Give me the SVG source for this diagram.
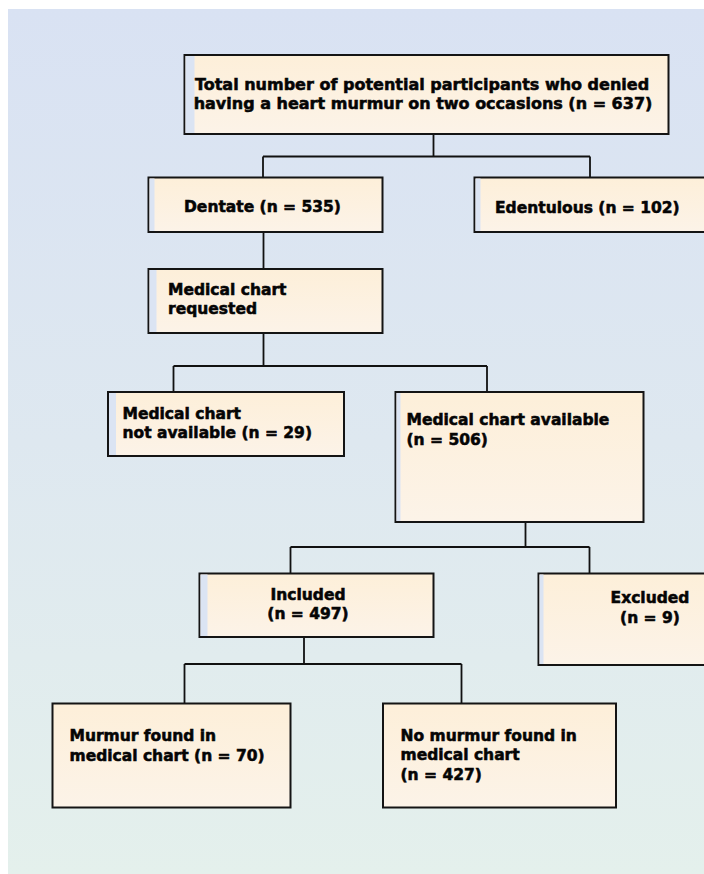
<svg xmlns="http://www.w3.org/2000/svg" width="704" height="874" viewBox="0 0 704 874">
  <defs>
    <linearGradient id="bg" x1="0" y1="0" x2="0" y2="1">
      <stop offset="0" stop-color="#d9e2f3"/>
      <stop offset="0.5" stop-color="#dee8f0"/>
      <stop offset="1" stop-color="#e4f0ec"/>
    </linearGradient>
    <linearGradient id="boxfill" x1="0" y1="0" x2="0" y2="1">
      <stop offset="0" stop-color="#fdefd9"/>
      <stop offset="1" stop-color="#fcf3e8"/>
    </linearGradient>
    <style>
      .box { fill: url(#boxfill); stroke: #141414; stroke-width: 2; }
      .strip { fill: #dbe4f3; }
      .lbl { font-family: "DejaVu Sans", "Liberation Sans", sans-serif; font-weight: bold; font-size: 15.5px; fill: #050505; stroke: #050505; stroke-width: 0.55; }
      .big { font-size: 16px; }
      .mid { text-anchor: middle; }
      .conn { fill: none; stroke: #111111; stroke-width: 1.8; }
    </style>
  </defs>

  <rect x="0" y="0" width="704" height="874" fill="#ffffff"/>
  <rect x="8" y="9" width="696" height="865" fill="url(#bg)"/>

  <g id="connectors">
    <path class="conn" d="M433.5 134 V156.5 M263 156.5 H590 M263 156.5 V177 M590 156.5 V177"/>
    <path class="conn" d="M263.5 232 V269"/>
    <path class="conn" d="M263.5 333 V366 M173.5 366 H487 M173.5 366 V392 M487 366 V392"/>
    <path class="conn" d="M525.5 522 V547 M290.5 547 H589.5 M290.5 547 V573 M589.5 547 V573"/>
    <path class="conn" d="M304 637 V664 M184.5 664 H461.5 M184.5 664 V703 M461.5 664 V703"/>
  </g>

  <g id="n-total">
    <rect class="box" x="184.5" y="55" width="484" height="79"/>
    <rect class="strip" x="185.5" y="56" width="9" height="77"/>
    <text class="lbl big mid" x="422" y="89.5">Total number of potential participants who denied</text>
    <text class="lbl big mid" x="423" y="108.5">having a heart murmur on two occasions (n = 637)</text>
  </g>

  <g id="n-dentate">
    <rect class="box" x="148.5" y="177.5" width="234" height="54.5"/>
    <rect class="strip" x="149.5" y="178.5" width="5" height="52.5"/>
    <text class="lbl" x="184" y="211.5">Dentate (n = 535)</text>
  </g>

  <g id="n-edentulous">
    <rect class="box" x="474.5" y="177.5" width="240" height="54.5"/>
    <rect class="strip" x="475.5" y="178.5" width="5" height="52.5"/>
    <text class="lbl" x="495" y="212.5">Edentulous (n = 102)</text>
  </g>

  <g id="n-requested">
    <rect class="box" x="148.5" y="269" width="234" height="64"/>
    <rect class="strip" x="149.5" y="270" width="7" height="62"/>
    <text class="lbl" x="168" y="294.5">Medical chart</text>
    <text class="lbl" x="168" y="314">requested</text>
  </g>

  <g id="n-notavailable">
    <rect class="box" x="108" y="392" width="236" height="64"/>
    <rect class="strip" x="109" y="393" width="7" height="62"/>
    <text class="lbl" x="122.5" y="418.5">Medical chart</text>
    <text class="lbl" x="122.5" y="438">not available (n = 29)</text>
  </g>

  <g id="n-available">
    <rect class="box" x="395.5" y="392" width="248" height="130"/>
    <rect class="strip" x="396.5" y="393" width="4" height="128"/>
    <text class="lbl" x="406.5" y="425">Medical chart available</text>
    <text class="lbl" x="406.5" y="445">(n = 506)</text>
  </g>

  <g id="n-included">
    <rect class="box" x="199.5" y="573.5" width="234" height="63.5"/>
    <rect class="strip" x="200.5" y="574.5" width="7" height="61.5"/>
    <text class="lbl mid" x="308" y="599.5">Included</text>
    <text class="lbl mid" x="308" y="619">(n = 497)</text>
  </g>

  <g id="n-excluded">
    <rect class="box" x="538.5" y="573.5" width="180" height="91.5"/>
    <rect class="strip" x="539.5" y="574.5" width="4" height="89.5"/>
    <text class="lbl mid" x="650" y="602.5">Excluded</text>
    <text class="lbl mid" x="650" y="622.5">(n = 9)</text>
  </g>

  <g id="n-murmur">
    <rect class="box" x="52.5" y="703.5" width="238" height="104"/>
    <text class="lbl" x="69.5" y="741">Murmur found in</text>
    <text class="lbl" x="69.5" y="760.5">medical chart (n = 70)</text>
  </g>

  <g id="n-nomurmur">
    <rect class="box" x="383" y="703.5" width="233" height="104"/>
    <text class="lbl" x="400.5" y="740.5">No murmur found in</text>
    <text class="lbl" x="400.5" y="760">medical chart</text>
    <text class="lbl" x="400.5" y="779.5">(n = 427)</text>
  </g>
</svg>
